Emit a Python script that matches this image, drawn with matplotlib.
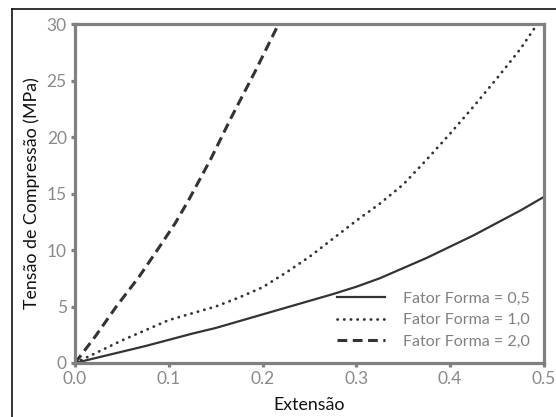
import matplotlib
matplotlib.use("Agg")
import matplotlib.pyplot as plt
from matplotlib.lines import Line2D

# values
x_05 = [0.0, 0.025, 0.05, 0.075, 0.1, 0.125, 0.15, 0.175, 0.2, 0.225, 0.25,
        0.275, 0.3, 0.325, 0.35, 0.375, 0.4, 0.425, 0.45, 0.475, 0.5]
y_05 = [0.0, 0.5, 1.0, 1.5, 2.05, 2.6, 3.1, 3.7, 4.3, 4.9, 5.5,
        6.1, 6.75, 7.5, 8.4, 9.3, 10.3, 11.3, 12.4, 13.5, 14.7]

x_10 = [0.0, 0.025, 0.05, 0.075, 0.1, 0.125, 0.15, 0.175, 0.2, 0.225, 0.25,
        0.275, 0.3, 0.325, 0.35, 0.375, 0.4, 0.425, 0.45, 0.475, 0.493]
y_10 = [0.0, 1.0, 2.0, 2.9, 3.8, 4.4, 5.0, 5.8, 6.7, 8.0, 9.4,
        11.0, 12.6, 14.1, 15.8, 18.0, 20.3, 22.7, 25.2, 27.8, 30.0]

x_20 = [0.0, 0.022, 0.044, 0.068, 0.091, 0.107, 0.121, 0.145, 0.167, 0.192, 0.217]
y_20 = [0.0, 2.4, 5.0, 7.6, 10.4, 12.4, 14.4, 18.1, 21.8, 25.8, 30.0]

labels = ["Fator Forma = 0,5", "Fator Forma = 1,0", "Fator Forma = 2,0"]
xticks = [0.0, 0.1, 0.2, 0.3, 0.4, 0.5]
yticks = [0, 5, 10, 15, 20, 25, 30]

plt.rcParams['font.family'] = ['Lato', 'DejaVu Sans']

line_col = "#333333"
gray = "#808080"

fig = plt.figure(figsize=(5.56, 4.17), dpi=100)
ax = fig.add_axes([0.135, 0.1295, 0.843, 0.8125])

ax.plot(x_05, y_05, color=line_col, lw=1.6, ls="-", label=labels[0])
ax.plot(x_10, y_10, color=line_col, lw=2.0, ls=(0, (0.1, 2.3)),
        dash_capstyle="round", label=labels[1])
ax.plot(x_20, y_20, color=line_col, lw=2.2, ls=(0, (3.2, 1.8)), label=labels[2])

ax.set_xlim(0, 0.5)
ax.set_ylim(0, 30)
ax.set_xticks(xticks)
ax.set_xticklabels(["%.1f" % t for t in xticks])
ax.set_yticks(yticks)
ax.set_yticklabels([str(t) for t in yticks])

for s in ax.spines.values():
    s.set_color(gray)
    s.set_linewidth(2.3)
ax.tick_params(axis="both", direction="out", length=3, width=2.3, color=gray,
               labelcolor="#8a8a8a", labelsize=12.5, pad=3)

ax.set_xlabel("Extensão", fontsize=12.8, color="#111111", labelpad=7)
ax.set_ylabel("Tensão de Compressão (MPa)", fontsize=12.8, color="#111111", labelpad=5)

ax.legend(loc="lower right", frameon=False, fontsize=11.5, labelcolor=gray,
          handlelength=3.0, handletextpad=1.1, labelspacing=0.45,
          borderaxespad=0.5)

# outer frame of the original figure (only top and left edges visible)
fig.add_artist(Line2D([12 / 556, 12 / 556], [0, 1 - 9 / 417], color="#111111", lw=1.2,
                      transform=fig.transFigure))
fig.add_artist(Line2D([12 / 556, 1], [1 - 9 / 417, 1 - 9 / 417], color="#111111", lw=1.2,
                      transform=fig.transFigure))

fig.savefig("out.png", dpi=100)
